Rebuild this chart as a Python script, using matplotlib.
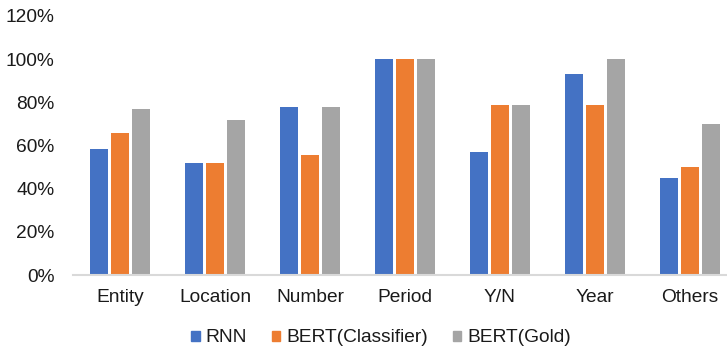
import matplotlib.pyplot as plt
import numpy as np
from matplotlib.patches import Patch

plt.rcParams['font.family'] = ['Liberation Sans', 'DejaVu Sans']

categories = ["Entity", "Location", "Number", "Period", "Y/N", "Year", "Others"]
rnn = [0.585, 0.52, 0.778, 1.0, 0.571, 0.929, 0.45]
bert_cls = [0.659, 0.52, 0.556, 1.0, 0.786, 0.786, 0.50]
bert_gold = [0.768, 0.72, 0.778, 1.0, 0.786, 1.0, 0.70]
series_names = ["RNN", "BERT(Classifier)", "BERT(Gold)"]
colors = ["#4472C4", "#ED7D31", "#A5A5A5"]

fig = plt.figure(figsize=(7.27, 3.5), dpi=100)
ax = fig.add_axes([72.5 / 727, 75 / 350, 1 - 72.5 / 727, (275 - 16) / 350])

x = np.arange(len(categories))
step = 0.221
for i, (vals, c) in enumerate(zip([rnn, bert_cls, bert_gold], colors)):
    ax.bar(x + (i - 1) * step, vals, width=0.185, color=c, label=series_names[i])

ax.set_ylim(0, 1.2)
ax.set_xlim(-0.5, 6.39)
ax.set_yticks(np.arange(0, 1.21, 0.2))
ax.set_yticklabels([f"{int(round(v * 100))}%" for v in np.arange(0, 1.21, 0.2)])
ax.set_xticks(x)
ax.set_xticklabels(categories)
ax.tick_params(axis='both', length=0, labelsize=13.8, colors='#1a1a1a')
ax.tick_params(axis='y', pad=13)
ax.tick_params(axis='x', pad=10)

for s in ['top', 'right', 'left']:
    ax.spines[s].set_visible(False)
ax.spines['bottom'].set_color('#D9D9D9')
ax.spines['bottom'].set_linewidth(1.5)

handles = [Patch(color=c, label=n) for c, n in zip(colors, series_names)]
fig.legend(handles=handles, loc='center', bbox_to_anchor=(381 / 727, 1 - 338 / 350),
           ncol=3, frameon=False, fontsize=13.8, handlelength=0.45, handleheight=0.45,
           handletextpad=0.3, columnspacing=1.3, labelcolor='#1a1a1a')

fig.savefig("out.png", dpi=100)
